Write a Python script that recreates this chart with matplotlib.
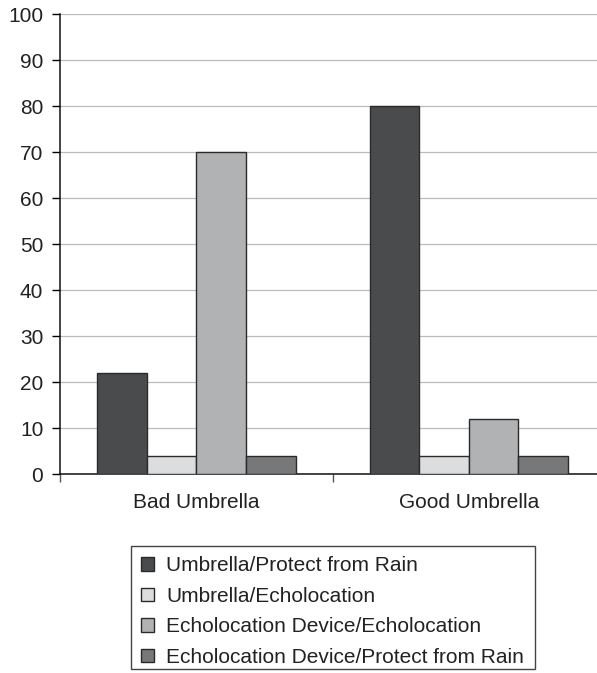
import numpy as np
import matplotlib
matplotlib.use("Agg")
import matplotlib.pyplot as plt
from matplotlib.patches import Rectangle

plt.rcParams['font.family'] = ['Liberation Sans', 'DejaVu Sans']

# dane z wykresu
groups = ["Bad Umbrella", "Good Umbrella"]
series_names = ["Umbrella/Protect from Rain", "Umbrella/Echolocation",
                "Echolocation Device/Echolocation",
                "Echolocation Device/Protect from Rain"]
umbrella_rain = [22, 80]
umbrella_echo = [4, 4]
device_echo = [70, 12]
device_rain = [4, 4]
colors = ["#4a4b4d", "#dcdddf", "#b1b2b4", "#77787a"]

values = [umbrella_rain, umbrella_echo, device_echo, device_rain]

fig = plt.figure(figsize=(5.97, 6.73), dpi=100)
ax = fig.add_axes([60 / 597, 1 - 474 / 673, 1 - 60 / 597, (474 - 14) / 673])

x = np.arange(len(groups))
w = 0.182
for i, (vals, name, col) in enumerate(zip(values, series_names, colors)):
    ax.bar(x + (i - 1.5) * w, vals, width=w, color=col, edgecolor="#2a2a2a",
           linewidth=1.0, label=name, zorder=3)

ax.set_ylim(0, 100)
ax.set_yticks(np.arange(0, 101, 10))
ax.set_xlim(-0.5, 1.47)
ax.yaxis.grid(True, color="#bbbbbb", linewidth=0.9, zorder=0)

ax.set_xticks([-0.5, 0.5])
ax.set_xticklabels([])
ax.set_xticks(x, minor=True)
ax.set_xticklabels(groups, minor=True)
ax.tick_params(axis='x', which='major', direction='out', length=6, width=1.0, color="#555555")
ax.tick_params(axis='x', which='minor', length=0, pad=14, labelsize=15, labelcolor="#222222")
ax.tick_params(axis='y', direction='out', length=6, width=1.0, pad=6, labelsize=15, labelcolor="#222222")

for s in ["top", "right"]:
    ax.spines[s].set_visible(False)
for s in ["left", "bottom"]:
    ax.spines[s].set_color("#111111")
    ax.spines[s].set_linewidth(1.1)

leg = fig.legend(loc="upper left", bbox_to_anchor=(131 / 597, 1 - 546 / 673),
                 borderaxespad=0, fontsize=15, frameon=False,
                 handlelength=0.6, handleheight=0.6, handletextpad=0.6,
                 labelspacing=0.55, borderpad=0.5)
for t in leg.get_texts():
    t.set_color("#222222")

# ramka legendy (w oryginale dolny margines jest węższy niż górny)
fig.add_artist(Rectangle((131 / 597, 1 - 669 / 673), 404 / 597, 123 / 673,
                         transform=fig.transFigure, fill=False,
                         edgecolor="#444444", linewidth=1.0))

fig.savefig("out.png", dpi=100)
